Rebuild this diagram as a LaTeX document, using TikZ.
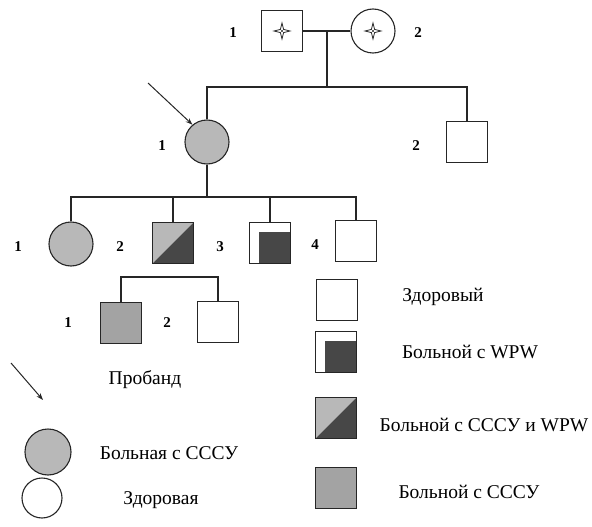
\documentclass[tikz,border=0pt]{standalone}
\usepackage{fontspec}
\usetikzlibrary{arrows.meta}
\setmainfont{Liberation Serif}
\definecolor{lightg}{gray}{0.72}
\definecolor{midg}{gray}{0.64}
\definecolor{darkg}{gray}{0.28}
\definecolor{lineg}{gray}{0.15}
\begin{document}
\begin{tikzpicture}[x=1pt,y=-1pt,
  conn/.style={draw=lineg, line width=1.1pt},
  sq/.style={rectangle, draw=lineg, line width=1.1pt, minimum size=41pt, inner sep=0pt},
  circ/.style={circle, draw=lineg, line width=1.1pt, minimum size=44pt, inner sep=0pt},
  num/.style={font=\bfseries\fontsize{15}{15}\selectfont},
  lbl/.style={font=\fontsize{19.5}{20}\selectfont},
  wpw/.style={sq, path picture={\fill[darkg] ([xshift=9pt,yshift=-9pt]path picture bounding box.north west) rectangle (path picture bounding box.south east);}},
  both/.style={sq, path picture={
      \fill[lightg] (path picture bounding box.north west) -- (path picture bounding box.north east) -- (path picture bounding box.south west) -- cycle;
      \fill[darkg] (path picture bounding box.north east) -- (path picture bounding box.south east) -- (path picture bounding box.south west) -- cycle;}},
  sick/.style={sq, fill=midg},
  sickf/.style={circ, fill=lightg},
  arr/.style={draw=lineg, line width=1pt, -{Stealth[length=7pt,width=5pt]}},
  spark/.style={draw=lineg, line width=0.8pt, fill=white}
]
\useasboundingbox (0,0) rectangle (592,527);

% Generation I
\node[sq] (I1) at (282,31) {};
\node[circ] (I2) at (373,31) {};
\node[num] (nI1) at (233,33) {1};
\node[num] (nI2) at (418,33) {2};
\draw[spark, shift={(282,31)}] (0,-8) -- (1.6,-1.6) -- (8,0) -- (1.6,1.6) -- (0,8) -- (-1.6,1.6) -- (-8,0) -- (-1.6,-1.6) -- cycle;
\fill[lineg] (282,31) circle (1.2pt);
\draw[spark, shift={(373,31)}] (0,-8) -- (1.6,-1.6) -- (8,0) -- (1.6,1.6) -- (0,8) -- (-1.6,1.6) -- (-8,0) -- (-1.6,-1.6) -- cycle;
\fill[lineg] (373,31) circle (1.2pt);
\coordinate (m1) at (327,31);
\coordinate (m2) at (327,87);
\draw[conn] (I1.east) -- (I2.west);
\draw[conn] (m1) -- (m2);

% Generation II
\node[sickf] (II1) at (207,142) {};
\node[sq] (II2) at (467,142) {};
\node[num] (nII1) at (162,146) {1};
\node[num] (nII2) at (416,146) {2};
\coordinate (s2) at (0,87);
\draw[conn] (II1.north) -- (II1.north |- s2) -- (II2.north |- s2) -- (II2.north);
\coordinate (pa) at (148,83);
\draw[arr] (pa) -- (II1.130);

% Generation III
\node[sickf] (III1) at (71,244) {};
\node[both] (III2) at (173,243) {};
\node[wpw] (III3) at (270,243) {};
\node[sq] (III4) at (356,241) {};
\node[num] (nIII1) at (18,247) {1};
\node[num] (nIII2) at (120,247) {2};
\node[num] (nIII3) at (220,247) {3};
\node[num] (nIII4) at (315,245) {4};
\coordinate (s3) at (0,197);
\draw[conn] (II1.south) -- (II1.south |- s3);
\draw[conn] (III1.north) -- (III1.north |- s3) -- (III4.north |- s3) -- (III4.north);
\draw[conn] (III2.north) -- (III2.north |- s3);
\draw[conn] (III3.north) -- (III3.north |- s3);

% Generation IV
\node[sick] (IV1) at (121,323) {};
\node[sq] (IV2) at (218,322) {};
\node[num] (nIV1) at (68,323) {1};
\node[num] (nIV2) at (167,323) {2};
\coordinate (s4) at (0,277);
\draw[conn] (IV1.north) -- (IV1.north |- s4) -- (IV2.north |- s4) -- (IV2.north);

% Legend right
\node[sq] (L1) at (337,300) {};
\node[lbl] (tL1) at (443,297) {Здоровый};
\node[wpw] (L2) at (336,352) {};
\node[lbl] (tL2) at (470,352) {Больной с WPW};
\node[both] (L3) at (336,418) {};
\node[lbl] (tL3) at (484,425) {Больной с СССУ и WPW};
\node[sick] (L4) at (336,488) {};
\node[lbl] (tL4) at (469,492) {Больной с СССУ};

% Legend left
\coordinate (la1) at (11,363);
\coordinate (la2) at (43,400);
\draw[arr] (la1) -- (la2);
\node[lbl] (tP) at (145,380) {Пробанд};
\node[sickf, minimum size=46pt] (L5) at (48,452) {};
\node[lbl] (tL5) at (169,453) {Больная с СССУ};
\node[circ, minimum size=40pt] (L6) at (42,498) {};
\node[lbl] (tL6) at (161,500) {Здоровая};
\end{tikzpicture}
\end{document}
